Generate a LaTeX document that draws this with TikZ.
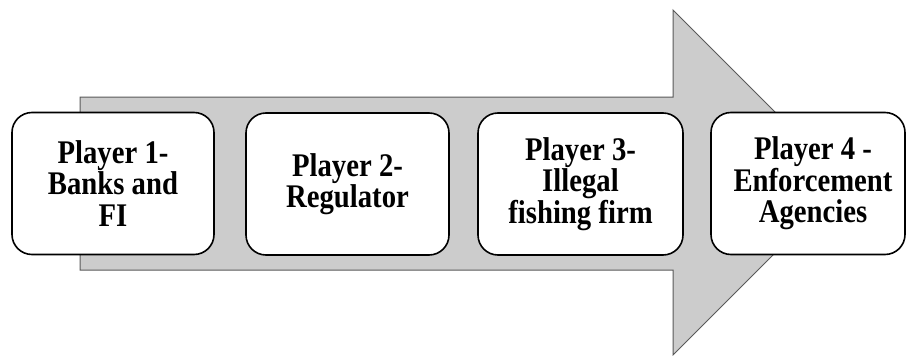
\documentclass[tikz,border=0pt]{standalone}
\usepackage{fontspec}
\setmainfont{Liberation Serif}
% slightly condensed bold serif for the box labels
\newfontfamily\playerfont[FakeStretch=0.87]{Liberation Serif}
\begin{document}
\begin{tikzpicture}[x=1pt,y=-1pt,
  playertext/.style={align=center, inner sep=0pt,
    font=\playerfont\fontsize{33}{31.5}\selectfont\bfseries},
  player/.style={draw=black, line width=1.6pt, fill=white, rounded corners=20pt,
    minimum height=142pt, playertext},
  flow/.style={draw=black!65, line width=1pt, fill=black!20}]
  \useasboundingbox (0,0) rectangle (906,356);
  % big block arrow behind the players
  \path[flow] (80,97) -- (673,97) -- (673,10) -- (845.5,182.5) -- (673,355)
    -- (673,270) -- (80,270) -- cycle;
  % player boxes
  \node[player, minimum width=202pt] (p1) at (113,183.5) {Player 1-\\Banks and\\FI};
  \node[player, minimum width=203pt] (p2) at (347.5,184) {Player 2-\\Regulator};
  \node[player, minimum width=205pt] (p3) at (580.5,184) {Player 3-\\Illegal\\fishing firm};
  \node[player, minimum width=194pt] (p4) at (808,183.5) {};
  \node[playertext, xshift=5pt] (p4text) at (p4.center) {Player 4 -\\Enforcement\\Agencies};
\end{tikzpicture}
\end{document}
